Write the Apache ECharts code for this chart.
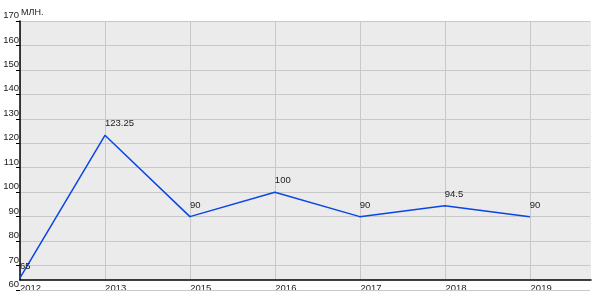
<!DOCTYPE html>
<html>
<head>
<meta charset="utf-8">
<script src="https://cdn.jsdelivr.net/npm/echarts@6/dist/echarts.min.js"></script>
<style>html,body{margin:0;padding:0;background:#fff}#c{width:600px;height:300px}</style>
</head>
<body>
<div id="c"></div>
<script>
const categories = ['2012', '2013', '2015', '2016', '2017', '2018', '2019'];
const values = [65, 123.25, 90, 100, 90, 94.5, 90];
const unitLabel = 'МЛН.';
const yMin = 60, yMax = 170, yStep = 10;
const xMax = 6.71;

const font = 'Arial, "Liberation Sans", sans-serif';
const chart = echarts.init(document.getElementById('c'), null, {renderer: 'canvas'});
chart.setOption({
  animation: false,
  title: {text: unitLabel, left: 21, top: 8, padding: 0,
    textStyle: {fontSize: 9, fontWeight: 'normal', color: '#222', fontFamily: font}},
  grid: [
    {left: 20, right: 10, top: 21, bottom: 10, show: false, z: 0},
    {left: 20, right: 9, top: 21, bottom: 20, show: true, backgroundColor: '#ebebeb', borderWidth: 0, z: 0}
  ],
  xAxis: [
    {gridIndex: 0, type: 'value', min: 0, max: xMax, show: false},
    {gridIndex: 1, type: 'value', min: 0, max: xMax, interval: 1, z: 1,
      axisLine: {show: true, lineStyle: {color: '#000', width: 1.5}},
      axisTick: {show: false},
      splitLine: {show: true, showMaxLine: false, lineStyle: {color: '#c8c8c8', width: 1}},
      axisLabel: {margin: 3, align: 'left', fontSize: 9.5, color: '#222', fontFamily: font,
        showMaxLabel: false,
        formatter: v => (Number.isInteger(v) && categories[v] !== undefined) ? categories[v] : ''}}
  ],
  yAxis: [
    {gridIndex: 0, type: 'value', min: yMin, max: yMax, interval: yStep, z: 2,
      axisLine: {show: false},
      axisTick: {show: true, inside: false, length: 4, lineStyle: {color: '#000', width: 1}},
      splitLine: {show: true, lineStyle: {color: '#c8c8c8', width: 1}},
      axisLabel: {margin: 1, verticalAlign: 'bottom', lineHeight: 11, fontSize: 9.5, color: '#222', fontFamily: font}},
    {gridIndex: 1, type: 'value', min: 0, max: 1, z: 3,
      axisLine: {show: true, lineStyle: {color: '#000', width: 1.5}},
      axisTick: {show: false}, axisLabel: {show: false}, splitLine: {show: false}}
  ],
  series: [{
    type: 'line', xAxisIndex: 0, yAxisIndex: 0, z: 4,
    data: values.map((v, i) => [i, v]),
    symbol: 'circle', symbolSize: 1, showSymbol: true,
    itemStyle: {color: '#0a46e6'},
    lineStyle: {color: '#0a46e6', width: 1.5},
    label: {show: true, position: 'top', align: 'left', distance: 6, fontSize: 9.5, color: '#222', fontFamily: font,
      formatter: p => String(p.value[1])}
  }]
});
</script>
</body>
</html>
